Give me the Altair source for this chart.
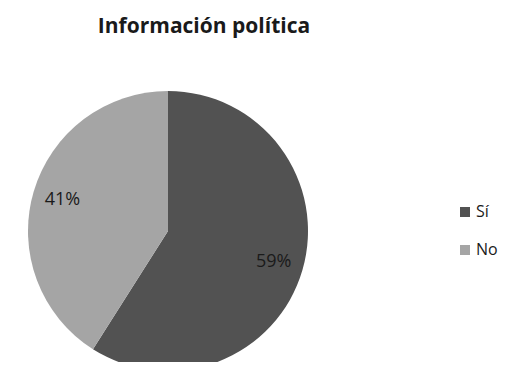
import altair as alt
import pandas as pd

categories = ["Sí", "No"]
values = [59, 41]
labels = ["59%", "41%"]
colors = ["#525252", "#a5a5a5"]
title_text = ["Información política"]

df = pd.DataFrame({"cat": categories, "value": values, "label": labels, "order": [0, 1]})

CX, CY, R = 160, 223, 140
FONT = "Open Sans"

base = alt.Chart(df).encode(
    theta=alt.Theta("value:Q", stack=True),
    order=alt.Order("order:Q"),
)

pie = base.mark_arc(outerRadius=R).encode(
    x=alt.value(CX),
    y=alt.value(CY),
    color=alt.Color(
        "cat:N",
        scale=alt.Scale(domain=categories, range=colors),
        legend=alt.Legend(
            title=None,
            orient="none",
            legendX=449,
            legendY=196,
            padding=0,
            symbolType="square",
            symbolSize=100,
            symbolStrokeWidth=0,
            labelFont=FONT,
            labelFontSize=16,
            labelColor="#1a1a1a",
            labelOffset=3,
            rowPadding=22,
        ),
    ),
)

text = base.mark_text(radius=110, font=FONT, fontSize=18, color="#1a1a1a").encode(
    x=alt.value(CX),
    y=alt.value(CY),
    text="label:N",
)

title = alt.Chart(pd.DataFrame({"t": title_text})).mark_text(
    font=FONT, fontSize=21, fontWeight="bold", color="#1a1a1a", align="center", baseline="middle"
).encode(x=alt.value(196), y=alt.value(19), text="t:N")

chart = alt.layer(pie, text, title).properties(
    width=490, height=354, autosize=alt.AutoSizeParams(type="none"), padding=0
).configure_view(stroke=None)

chart.save("out.html", embed_options={"renderer": "svg", "actions": False})
